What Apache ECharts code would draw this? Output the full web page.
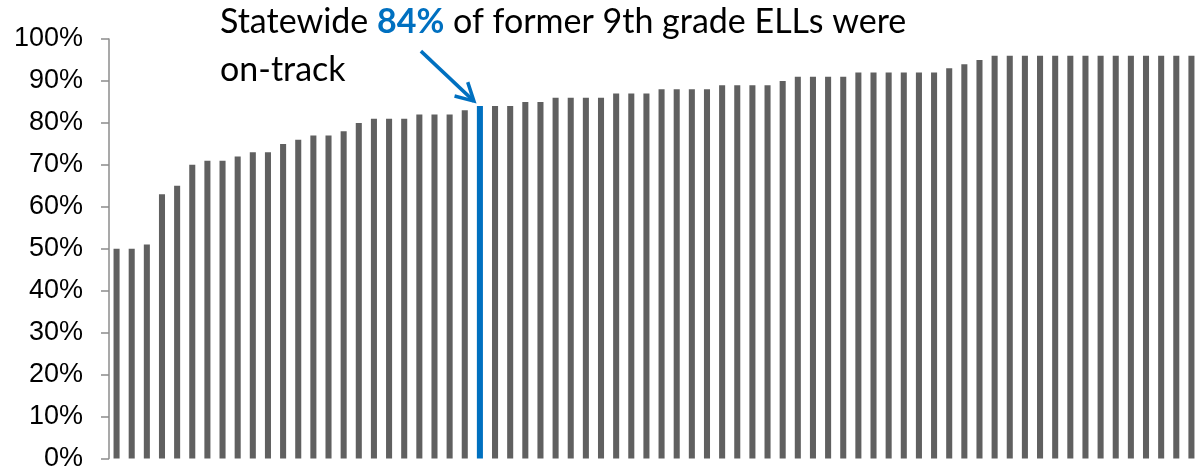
<!DOCTYPE html>
<html>
<head>
<meta charset="utf-8">
<script src="https://cdn.jsdelivr.net/npm/echarts@6/dist/echarts.min.js"></script>
<style>
html,body{margin:0;padding:0;background:#fff;}
#c{width:1204px;height:472px;}
</style>
</head>
<body>
<div id="c"></div>
<script>
// ---- data ----
var districts = [];
for (var i = 1; i <= 72; i++) districts.push('D' + i);
var onTrackPct = [
  50,50,51,63,65,70,71,71,72,73,73,75,76,77,77,78,80,81,81,
  81,82,82,82,83,84,84,84,85,85,86,86,86,86,87,87,87,88,88,
  88,88,89,89,89,89,90,91,91,91,91,92,92,92,92,92,92,93,94,95,
  96,96,96,96,96,96,96,96,96,96,96,96,96,96
];
var statewideIndex = 24;
var statewideValue = 84;
var yTicks = [0,10,20,30,40,50,60,70,80,90,100];
var titleLine1 = ['Statewide ', '84%', ' of former 9th grade ELLs were'];
var titleLine2 = 'on-track';

var GRAY = '#606060', BLUE = '#0070C0';

var chart = echarts.init(document.getElementById('c'), null, {renderer: 'canvas'});

var barData = onTrackPct.map(function (v, i) {
  return {value: v, itemStyle: {color: i === statewideIndex ? BLUE : GRAY}};
});

var titleGraphic = {
  type: 'text',
  left: 220,
  top: 5,
  style: {
    text: '{a|' + titleLine1[0] + '}{b|' + titleLine1[1] + '}{a|' + titleLine1[2] + '}\n{a|' + titleLine2 + '}',
    rich: {
      a: {fontFamily: 'Lato, sans-serif', fontSize: 34, fill: '#000', lineHeight: 48},
      b: {fontFamily: 'Lato, sans-serif', fontSize: 34, fontWeight: 'bold', fill: BLUE, lineHeight: 48}
    }
  }
};

chart.setOption({
  animation: false,
  grid: {left: 109, right: 5, top: 39, bottom: 11, containLabel: false},
  xAxis: {
    type: 'category',
    data: districts,
    axisLine: {show: false},
    axisTick: {show: false},
    axisLabel: {show: false},
    splitLine: {show: false}
  },
  yAxis: {
    type: 'value',
    min: yTicks[0],
    max: yTicks[yTicks.length - 1],
    interval: yTicks[1] - yTicks[0],
    axisLine: {show: true, lineStyle: {color: '#8c8c8c', width: 1.5}},
    axisTick: {show: true, length: 8, lineStyle: {color: '#8c8c8c', width: 1.5}},
    axisLabel: {
      formatter: '{value}%',
      fontFamily: 'Liberation Sans, Arial, sans-serif',
      fontSize: 27,
      color: '#000',
      margin: 26
    },
    splitLine: {show: false}
  },
  series: [{
    type: 'bar',
    data: barData,
    barCategoryGap: '60%',
    silent: true
  }],
  graphic: [titleGraphic]
});

// arrow pointing at the statewide bar, anchored to its top through the axes
var barTop = chart.convertToPixel({xAxisIndex: 0, yAxisIndex: 0}, [statewideIndex, statewideValue]);
var tipX = barTop[0] - 6, tipY = barTop[1] - 5;
var startX = tipX - 53, startY = tipY - 50;
var ang = Math.atan2(tipY - startY, tipX - startX);
var headLen = 20, spread = 0.5;
var h1 = [tipX - headLen * Math.cos(ang - spread), tipY - headLen * Math.sin(ang - spread)];
var h2 = [tipX - headLen * Math.cos(ang + spread), tipY - headLen * Math.sin(ang + spread)];
chart.setOption({
  graphic: [titleGraphic, {
    type: 'line',
    shape: {x1: startX, y1: startY, x2: tipX, y2: tipY},
    style: {stroke: BLUE, lineWidth: 3.5, lineCap: 'butt'}
  }, {
    type: 'polyline',
    shape: {points: [h1, [tipX, tipY], h2]},
    style: {stroke: BLUE, lineWidth: 3.5, fill: null, lineJoin: 'miter'}
  }]
});
</script>
</body>
</html>
